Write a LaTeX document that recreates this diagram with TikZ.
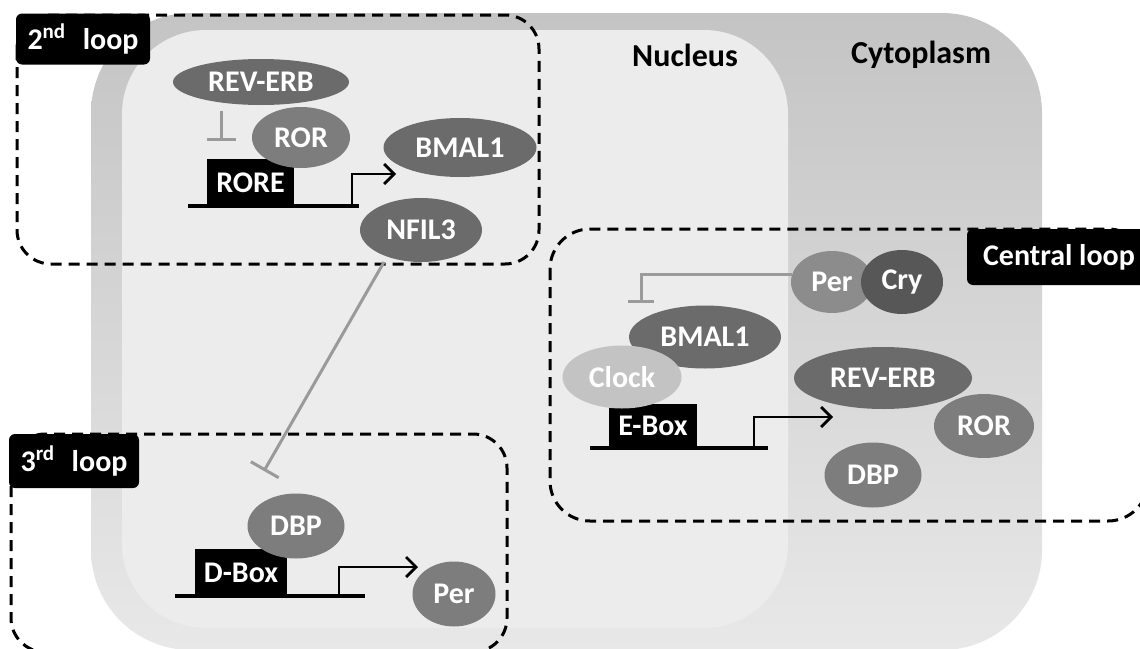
\documentclass[tikz,border=0pt]{standalone}
\usepackage{fontspec}
\setmainfont{Carlito}
\usetikzlibrary{shapes.geometric,arrows.meta}
\definecolor{celltop}{HTML}{C4C4C4}
\definecolor{cellbot}{HTML}{E8E8E8}
\definecolor{nucfill}{HTML}{ECECEC}
\definecolor{protdark}{HTML}{6B6B6B}
\definecolor{protmid}{HTML}{7D7D7D}
\definecolor{protlight}{HTML}{8C8C8C}
\definecolor{crycol}{HTML}{575757}
\definecolor{clockcol}{HTML}{C3C3C3}
\definecolor{inhibcol}{HTML}{9A9A9A}
\tikzset{
    protein/.style={ellipse, fill=#1, inner sep=0pt, text=white,
        font=\fontsize{15}{18}\selectfont\bfseries},
    protein/.default=protdark,
    sitebox/.style={rectangle, fill=black, inner sep=0pt, text=white,
        font=\fontsize{15}{18}\selectfont\bfseries},
    looplabel/.style={rectangle, fill=black, rounded corners=3pt, inner sep=0pt, text=white,
        font=\fontsize{15}{18}\selectfont\bfseries},
    compartment/.style={text=black, font=\fontsize{16}{19}\selectfont\bfseries},
    loopframe/.style={draw=black, line width=1.5pt, dash pattern=on 5.5pt off 3.5pt, rounded corners=17pt},
    dna/.style={line width=1.6pt},
    express/.style={line width=1.4pt, -{Straight Barb[length=5pt,width=10pt]}},
    inhib/.style={draw=inhibcol, line width=1.5pt, -{Bar[width=#1]}},
    inhib/.default=14pt,
}

\begin{document}
\begin{tikzpicture}[x=0.5pt, y=-0.5pt]
    \useasboundingbox (0,0) rectangle (1140,648);
    \clip (0,0) rectangle (1140,648);
    % cell and nucleus
    \shade[top color=celltop, bottom color=cellbot, rounded corners=50pt] (91,13) rectangle (1042,650);
    \fill[nucfill, rounded corners=42pt] (122,30) rectangle (788,628);
    \node[compartment] (nuc) at (685,55) {Nucleus};
    \node[compartment] (cyto) at (921,55) {Cytoplasm};

    \draw[loopframe] (17,15) rectangle (539,264);
    \draw[loopframe] (11,434) rectangle (507,652);
    \draw[loopframe, rounded corners=20pt] (550,229) rectangle (1148,521);
    \node[looplabel, minimum width=67pt, minimum height=25.5pt] (lab2) at (83,39) {2\textsuperscript{nd}\hspace{0.55em}loop};
    \node[looplabel, minimum width=65pt, minimum height=27pt] (lab3) at (74,461) {3\textsuperscript{rd}\hspace{0.55em}loop};
    \node[looplabel, minimum width=92pt, minimum height=28pt] (labc) at (1059,257) {Central loop};

    % 2nd loop
    \coordinate (rore-top) at (221,111);
    \coordinate (rore-rep) at (221,141);
    \coordinate (tss2) at (352,206);
    \coordinate (bmal2-in) at (396,174);
    \coordinate (nfil3-foot) at (384,262);
    \coordinate (dbox-rep) at (264,471);
    \draw[inhib=14.5pt] (rore-top) -- (rore-rep);
    \draw[inhib=16pt] (nfil3-foot) -- (dbox-rep);
    \draw[dna] (188,206) -- (359,206);
    \draw[express] (tss2) |- (bmal2-in);
    \node[protein, minimum width=88pt, minimum height=23pt] (reverb2) at (261,82) {REV-ERB};
    \node[sitebox, minimum width=43.5pt, minimum height=23.5pt] (rore) at (250.5,182.5) {RORE};
    \node[protein=protmid, minimum width=49pt, minimum height=30.5pt] (ror2) at (301,137.5) {ROR};
    \node[protein, minimum width=76.5pt, minimum height=29.5pt] (bmal2) at (460,147.5) {BMAL1};
    \node[protein, minimum width=61pt, minimum height=32pt] (nfil3) at (421,230) {NFIL3};

    % 3rd loop
    \coordinate (tss3) at (339,596);
    \coordinate (per3-in) at (418,567);
    \draw[dna] (175,596) -- (365,596);
    \draw[express] (tss3) |- (per3-in);
    \node[sitebox, minimum width=46pt, minimum height=23.5pt] (dbox) at (241,572.5) {D-Box};
    \node[protein=protmid, minimum width=48.5pt, minimum height=32.5pt] (dbp3) at (296,526) {DBP};
    \node[protein=protmid, minimum width=41.5pt, minimum height=32.5pt] (per3) at (454,594) {Per};

    % central loop
    \coordinate (tssc) at (754,448);
    \coordinate (revc-in) at (833,417);
    \coordinate (ebox-rep) at (641,303);
    \draw[dna] (590,448) -- (768,448);
    \draw[express] (tssc) |- (revc-in);
    \node[sitebox, minimum width=44pt, minimum height=21.5pt] (ebox) at (653,425.5) {E-Box};
    \node[protein, minimum width=76pt, minimum height=31.5pt] (bmalc) at (705,337) {BMAL1};
    \node[protein=clockcol, minimum width=59.5pt, minimum height=31.5pt] (clock) at (622,377) {Clock};
    \node[protein, minimum width=89pt, minimum height=31pt] (reverbc) at (883,378) {REV-ERB};
    \node[protein=protmid, minimum width=50pt, minimum height=32pt] (rorc) at (984,426) {ROR};
    \node[protein=protmid, minimum width=48.5pt, minimum height=32.5pt] (dbpc) at (873,475) {DBP};
    \node[protein=protlight, minimum width=41pt, minimum height=31pt] (perc) at (832,282) {Per};
    \node[protein=crycol, minimum width=41pt, minimum height=32pt] (cry) at (902,282) {Cry};
    \draw[inhib=13pt] (perc.170) -| (ebox-rep);
\end{tikzpicture}
\end{document}
